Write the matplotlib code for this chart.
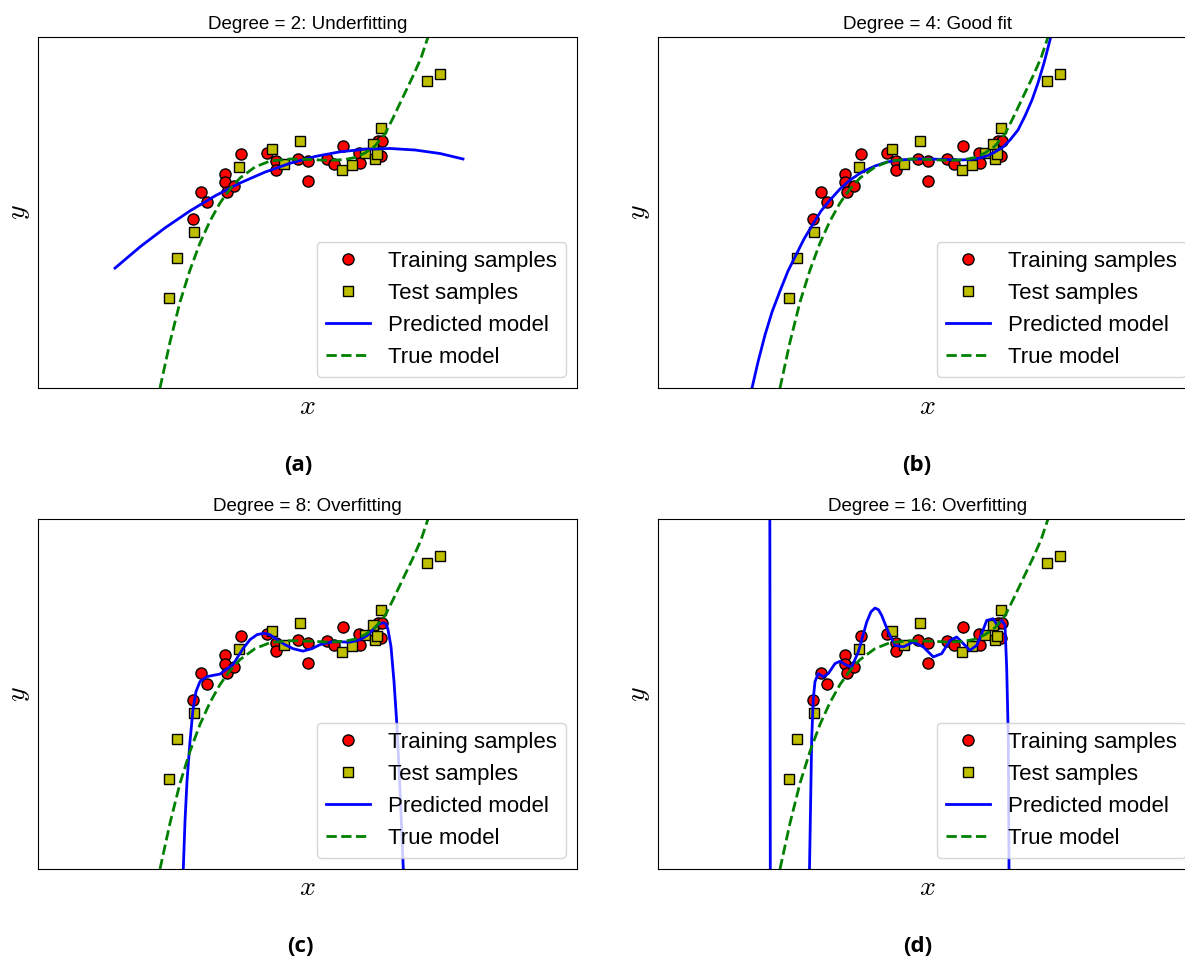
import numpy as np
import matplotlib
matplotlib.use('Agg')
import matplotlib.pyplot as plt

plt.rcParams['font.family'] = ['Liberation Sans', 'DejaVu Sans']
plt.rcParams['mathtext.fontset'] = 'cm'

# ---------------- data ----------------
train_x = [1.553, 1.627, 1.690, 1.865, 1.865, 1.890, 1.960, 2.033, 2.285, 2.375, 2.380,
           2.598, 2.700, 2.697, 2.887, 2.960, 3.047, 3.210, 3.215, 3.395, 3.440, 3.430]
train_y = [1.693, 1.963, 1.860, 2.143, 2.060, 1.965, 2.025, 2.340, 2.355, 2.270, 2.183,
           2.293, 2.270, 2.070, 2.290, 2.243, 2.425, 2.355, 2.250, 2.470, 2.470, 2.320]

test_x = [1.313, 1.388, 1.555, 2.008, 2.340, 2.463, 2.623, 3.043, 3.143, 3.273, 3.353,
          3.370, 3.390, 3.428, 3.887, 4.020]
test_y = [0.902, 1.305, 1.562, 2.210, 2.390, 2.243, 2.467, 2.180, 2.235, 2.345, 2.445,
          2.292, 2.340, 2.598, 3.070, 3.137]

true_x = [1.17, 1.22, 1.32, 1.42, 1.52, 1.62, 1.72, 1.82, 1.92, 2.02, 2.17, 2.32, 2.52,
          2.72, 2.92, 3.07, 3.17, 3.27, 3.37, 3.47, 3.55, 3.65, 3.75, 3.83, 3.90, 3.94]
true_y = [-0.14, 0.00, 0.46, 0.86, 1.18, 1.45, 1.67, 1.85, 1.99, 2.10, 2.21, 2.27, 2.29,
          2.285, 2.275, 2.285, 2.305, 2.35, 2.42, 2.54, 2.70, 2.91, 3.12, 3.30, 3.51, 3.64]

pred2_x = [0.77, 1.02, 1.27, 1.52, 1.77, 2.02, 2.27, 2.52, 2.77, 3.02, 3.27, 3.52,
           3.77, 4.02, 4.25]
pred2_y = [1.199, 1.411, 1.601, 1.771, 1.921, 2.050, 2.159, 2.247, 2.315, 2.362, 2.388,
           2.395, 2.380, 2.345, 2.29]

pred4_x = [0.90, 0.94, 1.00, 1.07, 1.14, 1.22, 1.30, 1.38, 1.46, 1.55, 1.63, 1.72, 1.82,
           1.92, 2.04, 2.17, 2.29, 2.42, 2.57, 2.72, 2.87, 3.02, 3.12, 3.22, 3.30, 3.37,
           3.45, 3.52, 3.60, 3.67, 3.74, 3.80, 3.86, 3.92, 3.95]
pred4_y = [-0.18, 0.00, 0.26, 0.53, 0.76, 0.97, 1.17, 1.33, 1.49, 1.64, 1.77, 1.88, 1.99,
           2.08, 2.16, 2.22, 2.26, 2.28, 2.29, 2.29, 2.285, 2.28, 2.285, 2.30, 2.325, 2.36,
           2.41, 2.48, 2.58, 2.72, 2.88, 3.05, 3.25, 3.48, 3.60]

pred8_x = [1.445, 1.453, 1.47, 1.49, 1.52, 1.55, 1.58, 1.62, 1.69, 1.82, 1.95, 2.05, 2.12,
           2.19, 2.26, 2.32, 2.39, 2.47, 2.55, 2.65, 2.74, 2.82, 2.95, 3.12, 3.22, 3.29,
           3.35, 3.40, 3.45, 3.48, 3.50, 3.53, 3.56, 3.59, 3.62, 3.653, 3.657]
pred8_y = [-0.12, 0.00, 0.48, 0.88, 1.28, 1.60, 1.78, 1.88, 1.93, 1.955, 2.05, 2.21, 2.30,
           2.35, 2.365, 2.35, 2.30, 2.25, 2.21, 2.185, 2.21, 2.25, 2.28, 2.275, 2.30, 2.34,
           2.40, 2.45, 2.47, 2.46, 2.40, 2.23, 1.88, 1.43, 0.80, 0.00, -0.12]

pred16_x = [1.00, 1.115, 1.125, 1.50, 1.51, 1.515, 1.537, 1.553, 1.57, 1.603, 1.653, 1.703,
            1.77, 1.82, 1.887, 1.937, 2.003, 2.087, 2.13, 2.17, 2.205, 2.237, 2.303, 2.37,
            2.453, 2.553, 2.653, 2.753, 2.837, 2.92, 2.987, 3.053, 3.12, 3.187, 3.237,
            3.287, 3.353, 3.393, 3.437, 3.47, 3.487, 3.503, 3.51, 3.512]
pred16_y = [6.0, 6.0, -1.5, -1.5, -0.12, 0.00, 1.31, 1.71, 1.88, 1.96, 1.927, 1.96,
            2.06, 2.083, 2.043, 2.027, 2.177, 2.477, 2.58, 2.617, 2.60, 2.543, 2.377, 2.243,
            2.227, 2.277, 2.227, 2.127, 2.16, 2.293, 2.327, 2.26, 2.193, 2.243, 2.36,
            2.493, 2.51, 2.443, 2.493, 2.443, 2.01, 1.31, 0.00, -0.12]

titles = ["Degree = 2: Underfitting", "Degree = 4: Good fit",
          "Degree = 8: Overfitting", "Degree = 16: Overfitting"]
captions = ["(a)", "(b)", "(c)", "(d)"]
preds = [(pred2_x, pred2_y), (pred4_x, pred4_y), (pred8_x, pred8_y), (pred16_x, pred16_y)]

# ---------------- layout ----------------
W, H = 1185, 960
fig = plt.figure(figsize=(W / 100, H / 100), dpi=100)

ax_lefts = [38, 658, 38, 658]
ax_tops = [37, 37, 519, 519]
ax_heights = [351, 351, 350, 350]
cap_pos = [(298, 466), (917, 466), (300, 946), (918, 946)]

for i in range(4):
    l, t, h = ax_lefts[i], ax_tops[i], ax_heights[i]
    ax = fig.add_axes([l / W, 1 - (t + h) / H, 539 / W, h / H])
    ax.plot(train_x, train_y, 'o', color='r', mec='k', ms=8, mew=1,
            label='Training samples')
    ax.plot(test_x, test_y, 's', color='y', mec='k', ms=7.5, mew=1,
            label='Test samples')
    px, py = preds[i]
    ax.plot(px, py, '-', color='b', lw=2, label='Predicted model')
    ax.plot(true_x, true_y, '--', color='g', lw=2, label='True model')
    ax.set_xlim(0, 5.39)
    ax.set_ylim(0, 3.51)
    ax.set_xticks([])
    ax.set_yticks([])
    ax.set_xlabel('$x$', fontsize=20)
    ax.set_ylabel('$y$', fontsize=20)
    ax.set_title(titles[i], fontsize=13.5)
    ax.legend(loc='lower right', fontsize=16, numpoints=1)
    cx, cy = cap_pos[i]
    fig.text(cx / W, 1 - cy / H, captions[i], ha='center', va='center',
             fontsize=16, fontweight='bold', family='Open Sans')

fig.savefig('out.png', dpi=100)
